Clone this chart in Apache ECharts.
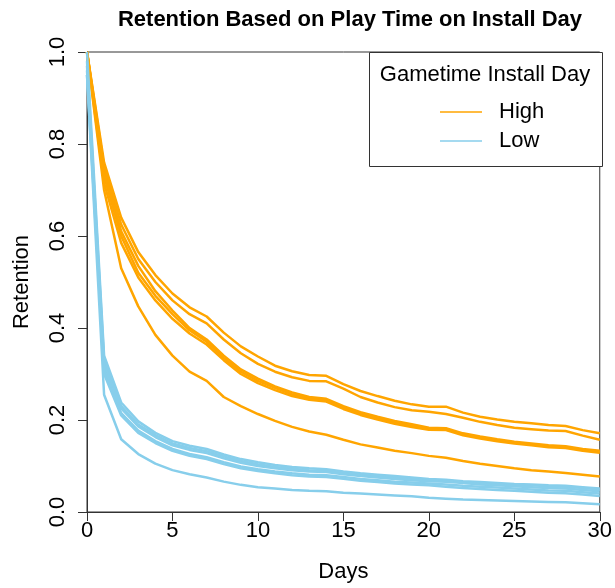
<!DOCTYPE html>
<html>
<head>
<meta charset="utf-8">
<script src="https://cdn.jsdelivr.net/npm/echarts@6/dist/echarts.min.js"></script>
<style>html,body{margin:0;padding:0;background:#fff;}#c{width:615px;height:588px;}</style>
</head>
<body>
<div id="c"></div>
<script>
var days = [0,1,2,3,4,5,6,7,8,9,10,11,12,13,14,15,16,17,18,19,20,21,22,23,24,25,26,27,28,29,30];
var xTicks = [0,5,10,15,20,25,30];
var yTicks = ['0.0','0.2','0.4','0.6','0.8','1.0'];

// High gametime on install day (orange)
var high1 = [1.0,0.76,0.64,0.565,0.515,0.475,0.445,0.425,0.39,0.36,0.338,0.318,0.306,0.298,0.296,0.278,0.263,0.252,0.242,0.234,0.229,0.229,0.216,0.207,0.201,0.196,0.193,0.189,0.187,0.178,0.171];
var high2 = [1.0,0.75,0.625,0.55,0.50,0.46,0.43,0.41,0.375,0.345,0.322,0.305,0.293,0.285,0.284,0.268,0.25,0.238,0.228,0.221,0.218,0.213,0.205,0.196,0.189,0.183,0.180,0.177,0.176,0.166,0.157];
var high3 = [1.0,0.74,0.61,0.535,0.48,0.438,0.40,0.375,0.34,0.31,0.29,0.273,0.26,0.25,0.246,0.230,0.217,0.207,0.198,0.191,0.183,0.182,0.171,0.164,0.158,0.153,0.149,0.145,0.143,0.137,0.133];
var high4 = [1.0,0.73,0.60,0.52,0.47,0.43,0.395,0.37,0.335,0.305,0.285,0.27,0.256,0.247,0.243,0.227,0.214,0.204,0.195,0.188,0.181,0.180,0.169,0.162,0.156,0.151,0.147,0.143,0.141,0.135,0.131];
var high5 = [1.0,0.715,0.585,0.51,0.46,0.42,0.388,0.364,0.33,0.30,0.28,0.265,0.252,0.244,0.240,0.224,0.211,0.201,0.192,0.185,0.179,0.178,0.167,0.160,0.154,0.149,0.145,0.141,0.139,0.133,0.129];
var high6 = [1.0,0.70,0.53,0.447,0.385,0.34,0.305,0.285,0.25,0.23,0.213,0.198,0.185,0.175,0.168,0.157,0.147,0.140,0.133,0.128,0.122,0.118,0.111,0.105,0.100,0.095,0.091,0.088,0.085,0.081,0.077];

// Low gametime on install day (blue)
var low1 = [1.0,0.34,0.238,0.197,0.172,0.154,0.144,0.137,0.125,0.115,0.108,0.102,0.098,0.095,0.093,0.088,0.084,0.081,0.078,0.075,0.072,0.070,0.067,0.065,0.063,0.061,0.060,0.058,0.057,0.054,0.051];
var low2 = [0.98,0.33,0.23,0.19,0.167,0.149,0.139,0.132,0.121,0.111,0.104,0.098,0.094,0.091,0.090,0.085,0.081,0.078,0.075,0.072,0.070,0.068,0.065,0.063,0.061,0.059,0.058,0.056,0.055,0.052,0.049];
var low3 = [0.97,0.32,0.225,0.186,0.163,0.145,0.135,0.128,0.117,0.107,0.100,0.095,0.091,0.088,0.087,0.082,0.078,0.075,0.072,0.069,0.067,0.066,0.063,0.060,0.058,0.056,0.054,0.052,0.051,0.048,0.045];
var low4 = [0.96,0.31,0.215,0.177,0.154,0.137,0.126,0.119,0.108,0.099,0.093,0.088,0.084,0.081,0.080,0.076,0.072,0.069,0.066,0.064,0.062,0.060,0.057,0.055,0.053,0.051,0.049,0.047,0.046,0.043,0.040];
var low5 = [0.95,0.30,0.21,0.172,0.150,0.133,0.122,0.115,0.104,0.095,0.089,0.084,0.080,0.077,0.076,0.072,0.068,0.065,0.062,0.060,0.058,0.055,0.052,0.050,0.048,0.046,0.044,0.042,0.041,0.038,0.035];
var low6 = [0.95,0.255,0.158,0.126,0.105,0.091,0.082,0.075,0.066,0.059,0.054,0.051,0.048,0.046,0.045,0.042,0.040,0.038,0.036,0.034,0.031,0.029,0.027,0.026,0.025,0.024,0.023,0.022,0.021,0.019,0.017];

var highSeries = [high1, high2, high3, high4, high5, high6];
var lowSeries = [low1, low2, low3, low4, low5, low6];

var FONT = "'Liberation Sans', Arial, sans-serif";
var ORANGE = '#FFA500';
var BLUE = '#87CEEB';

function mk(name, color, vals) {
  return {
    name: name, type: 'line', showSymbol: false, symbol: 'none', silent: true,
    data: days.map(function (d, i) { return [d, vals[i]]; }),
    lineStyle: { color: color, width: 2.5 },
    itemStyle: { color: color }
  };
}
var series = [];
highSeries.forEach(function (v) { series.push(mk('High', ORANGE, v)); });
lowSeries.forEach(function (v) { series.push(mk('Low', BLUE, v)); });

var chart = echarts.init(document.getElementById('c'), null, { renderer: 'canvas' });
chart.setOption({
  animation: false,
  backgroundColor: '#fff',
  title: {
    text: 'Retention Based on Play Time on Install Day',
    left: 345, top: 4, textAlign: 'center',
    textStyle: { fontFamily: FONT, fontSize: 22, fontWeight: 'bold', color: '#000' }
  },
  grid: { left: 87, right: 12, top: 52, bottom: 75, show: true, borderColor: '#333', borderWidth: 1, backgroundColor: 'transparent' },
  xAxis: {
    type: 'value', min: 0, max: 30, interval: 5,
    name: 'Days', nameLocation: 'middle', nameGap: 49,
    nameTextStyle: { fontFamily: FONT, fontSize: 22, color: '#000' },
    axisLine: { show: true, lineStyle: { color: '#333', width: 1 } },
    axisTick: { show: true, length: 9, lineStyle: { color: '#333' } },
    axisLabel: { fontFamily: FONT, fontSize: 22, color: '#000', margin: 8,
      formatter: function (v) { return xTicks.indexOf(v) >= 0 ? String(v) : ''; } },
    splitLine: { show: false }
  },
  yAxis: {
    type: 'value', min: 0, max: 1, interval: 0.2,
    name: 'Retention', nameLocation: 'middle', nameGap: 54,
    nameTextStyle: { fontFamily: FONT, fontSize: 22, color: '#000' },
    axisLine: { show: true, lineStyle: { color: '#333', width: 1 } },
    axisTick: { show: true, length: 9, lineStyle: { color: '#333' } },
    axisLabel: { fontFamily: FONT, fontSize: 22, color: '#000', margin: 18, rotate: 90,
      formatter: function (v) { return yTicks[Math.round(v / 0.2)]; } },
    splitLine: { show: false }
  },
  legend: {
    data: ['High', 'Low'], orient: 'vertical', left: 435, top: 96,
    itemWidth: 42, itemHeight: 22, itemGap: 7, z: 20, zlevel: 0,
    icon: 'path://M0,0H42V1.5H0Z',
    textStyle: { fontFamily: FONT, fontSize: 22, color: '#000', padding: [0, 0, 0, 12] },
    selectedMode: false
  },
  graphic: [
    { type: 'rect', shape: { x: 369.5, y: 52.5, width: 233, height: 114 }, style: { fill: '#fff', stroke: '#333', lineWidth: 1 }, z: 5 },
    { type: 'text', x: 485, y: 75, style: { text: 'Gametime Install Day', font: '22px ' + FONT, fill: '#000', textAlign: 'center', textVerticalAlign: 'middle' }, z: 6 }
  ],
  series: series
});
</script>
</body>
</html>
